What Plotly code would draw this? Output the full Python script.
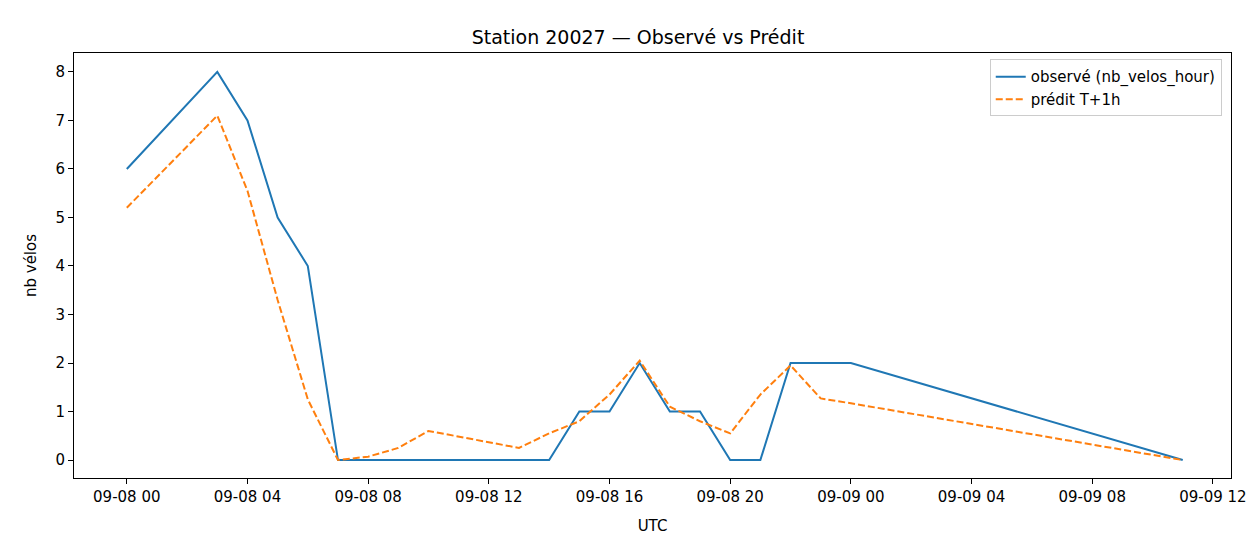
import pandas as pd
import plotly.graph_objects as go

# hours after 2024-09-08 00:00 UTC
hours = [0, 3, 4, 5, 6, 7, 8, 9, 10, 13, 14, 15, 16, 17, 18, 19, 20, 21, 22, 23, 24, 35]
observed = [6, 8, 7, 5, 4, 0, 0, 0, 0, 0, 0, 1, 1, 2, 1, 1, 0, 0, 2, 2, 2, 0]
predicted = [5.2, 7.1, 5.55, 3.3, 1.25, 0.0, 0.07, 0.25, 0.6, 0.25, 0.55, 0.8, 1.35, 2.05,
             1.1, 0.8, 0.55, 1.35, 1.95, 1.27, 1.17, 0.0]

t0 = pd.Timestamp("2024-09-08 00:00")
times = [t0 + pd.Timedelta(hours=h) for h in hours]
tickvals = [t0 + pd.Timedelta(hours=h) for h in range(0, 37, 4)]

fig = go.Figure()
fig.add_trace(go.Scatter(x=times, y=observed, mode="lines", name="observé (nb_velos_hour)",
                         line=dict(color="#1f77b4", width=2)))
fig.add_trace(go.Scatter(x=times, y=predicted, mode="lines", name="prédit T+1h",
                         line=dict(color="#ff7f0e", width=2, dash="7px,3px")))

axis_style = dict(showline=True, linecolor="black", mirror=True, ticks="outside",
                  ticklen=5, tickcolor="black", showgrid=False, zeroline=False,
                  tickfont=dict(size=15), title_font=dict(size=15))
fig.update_layout(
    width=1260, height=560,
    margin=dict(l=66, r=37, t=45, b=90),
    plot_bgcolor="white", paper_bgcolor="white",
    font=dict(family="DejaVu Sans", size=15, color="black"),
    title=dict(text="Station 20027 — Observé vs Prédit", x=0.5, xanchor="center",
               y=0.96, font=dict(size=19)),
    legend=dict(x=0.992, y=0.985, xanchor="right", yanchor="top", bordercolor="#cccccc",
                borderwidth=1, bgcolor="rgba(255,255,255,0.8)", font=dict(size=15)),
)
fig.update_xaxes(axis_style, title_text="UTC", tickvals=tickvals, tickformat="%m-%d %H",
                 range=[t0 - pd.Timedelta(hours=1.75), t0 + pd.Timedelta(hours=36.6)])
fig.update_yaxes(axis_style, title_text="nb vélos", range=[-0.37, 8.39], dtick=1)

fig.write_html("out.html")
